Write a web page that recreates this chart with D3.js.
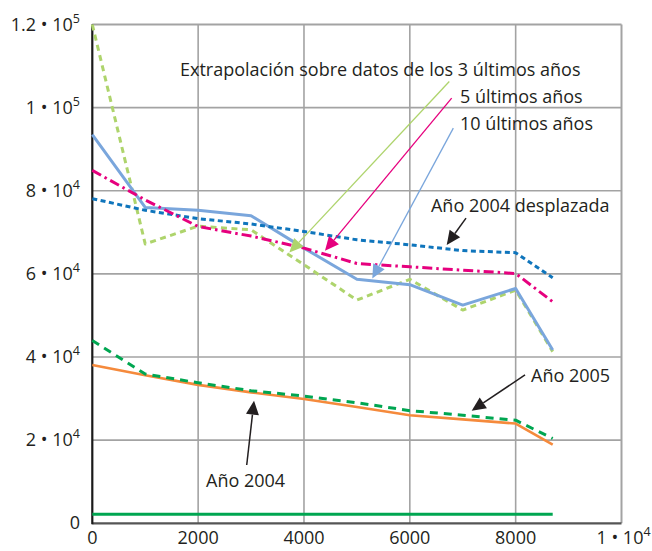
<!DOCTYPE html>
<html>
<head>
<meta charset="utf-8">
<script src="https://cdn.jsdelivr.net/npm/d3@7"></script>
<style>
  html, body { margin: 0; padding: 0; background: #ffffff; }
  svg { display: block; }
  text { font-family: "Open Sans", "Noto Sans", sans-serif; fill: #231f20; }
</style>
</head>
<body>
<svg id="chart" width="652" height="551"></svg>
<script>
// ---- data ----
const hours = [0, 1000, 2000, 3000, 4000, 5000, 6000, 7000, 8000, 8700];
const extrap3 = [120000, 67200, 71500, 70600, 62200, 53700, 58700, 51300, 56100, 41300];
const extrap5 = [84900, 77800, 71400, 69100, 66200, 62500, 61700, 60900, 60100, 53300];
const extrap10 = [93500, 76000, 75300, 74000, 66200, 58700, 57400, 52500, 56500, 41700];
const year2004Shifted = [78100, 75300, 73300, 72000, 70200, 68200, 67000, 65600, 65100, 59100];
const year2004 = [38100, 35600, 33300, 31500, 29900, 28000, 26000, 25000, 24000, 18900];
const year2005 = [44000, 35900, 33800, 31900, 30600, 29000, 27100, 26000, 24800, 20400];
const baseLevel = [2200, 2200];
const baseHours = [0, 8700];
const xTicks = [0, 2000, 4000, 6000, 8000, 10000];
const yTicks = [0, 20000, 40000, 60000, 80000, 100000, 120000];

// annotations (positions in data units)
const annotations = [
  { text: "Extrapolación sobre datos de los 3 últimos años", tx: 1657, ty: 107520,
    from: [6746, 106280], to: [3723, 65130], color: "#aed46c", w: 1.3 },
  { text: "5 últimos años", tx: 6948, ty: 101155,
    from: [6791, 102290], to: [4397, 65540], color: "#e6007e", w: 1.3 },
  { text: "10 últimos años", tx: 6948, ty: 94660,
    from: [6822, 95070], to: [5291, 58870], color: "#7aa6dc", w: 1.3 },
  { text: "Año 2004 desplazada", tx: 6400, ty: 74800,
    from: [7062, 73410], to: [6697, 66980], color: "#231f20", w: 1.5 },
  { text: "Año 2005", tx: 8290, ty: 34000,
    from: [8177, 35690], to: [7169, 27100], color: "#231f20", w: 1.5 },
  { text: "Año 2004", tx: 2149, ty: 8740,
    from: [2918, 14030], to: [3056, 29510], color: "#231f20", w: 1.5 }
];

// ---- scales ----
const svg = d3.select("#chart");
const x = d3.scaleLinear().domain([0, 10000]).range([92.3, 621.5]);
const y = d3.scaleLinear().domain([0, 120000]).range([523.3, 24.5]);

// ---- grid ----
const grid = svg.append("g");
grid.selectAll("line.h").data(yTicks.filter(d => d > 0)).join("line")
  .attr("x1", x(0)).attr("x2", x(10000))
  .attr("y1", d => y(d)).attr("y2", d => y(d))
  .attr("stroke", "#a3a3a3").attr("stroke-width", d => d === 120000 ? 2 : 1.6);
grid.selectAll("line.v").data(xTicks.filter(d => d > 0)).join("line")
  .attr("y1", y(0)).attr("y2", y(120000))
  .attr("x1", d => x(d)).attr("x2", d => x(d))
  .attr("stroke", "#a3a3a3").attr("stroke-width", d => d === 10000 ? 2 : 1.6);

// axes lines
svg.append("line").attr("x1", x(0)).attr("x2", x(10000)).attr("y1", y(0)).attr("y2", y(0))
  .attr("stroke", "#555555").attr("stroke-width", 2.2);
svg.append("line").attr("x1", x(0)).attr("x2", x(0)).attr("y1", y(0) + 1).attr("y2", y(120000))
  .attr("stroke", "#1a1a1a").attr("stroke-width", 2.2);

// ---- tick labels ----
function sciParts(v) {
  if (v < 10000) return { plain: String(v) };
  const e = Math.floor(Math.log10(v));
  const m = +(v / Math.pow(10, e)).toFixed(2);
  return { mant: String(m), exp: String(e) };
}
function writeLabel(sel, v) {
  const p = sciParts(v);
  if (p.plain !== undefined) { sel.text(p.plain); return; }
  sel.append("tspan").text(p.mant + " \u2022 10");
  sel.append("tspan").attr("dy", -8).attr("font-size", 12.5).text(p.exp);
}
const yl = svg.append("g");
yTicks.forEach(v => {
  const t = yl.append("text").attr("x", 80).attr("y", y(v) + 6)
    .attr("text-anchor", "end").attr("font-size", 18);
  writeLabel(t, v);
});
const xl = svg.append("g");
xTicks.forEach(v => {
  const t = xl.append("text").attr("x", x(v) + (v === 10000 ? 2 : 0)).attr("y", 544)
    .attr("text-anchor", "middle").attr("font-size", 18);
  writeLabel(t, v);
});

// ---- series ----
const line = d3.line().x(d => x(d[0])).y(d => y(d[1]));
const zipS = vals => hours.map((h, i) => [h, vals[i]]);
const series = [
  { vals: zipS(year2004), color: "#f58a3c", w: 2.6, dash: null },
  { vals: zipS(year2005), color: "#00a651", w: 3, dash: "8,6" },
  { vals: baseHours.map((h, i) => [h, baseLevel[i]]), color: "#00a651", w: 3, dash: null },
  { vals: zipS(extrap3), color: "#aed46c", w: 3, dash: "6,4.5" },
  { vals: zipS(extrap10), color: "#7aa6dc", w: 3, dash: null },
  { vals: zipS(year2004Shifted), color: "#0f75bc", w: 3, dash: "5,3.5" },
  { vals: zipS(extrap5), color: "#e6007e", w: 3, dash: "10,4,2.5,4" }
];
series.forEach(s => {
  svg.append("path").attr("d", line(s.vals)).attr("fill", "none")
    .attr("stroke", s.color).attr("stroke-width", s.w)
    .attr("stroke-dasharray", s.dash).attr("stroke-linejoin", "round");
});

// ---- annotations ----
annotations.forEach(a => {
  const x1 = x(a.from[0]), y1 = y(a.from[1]), x2 = x(a.to[0]), y2 = y(a.to[1]);
  const ang = Math.atan2(y2 - y1, x2 - x1);
  const L = 14, W = 6.5;
  const bx = x2 - L * Math.cos(ang), by = y2 - L * Math.sin(ang);
  svg.append("line").attr("x1", x1).attr("y1", y1).attr("x2", bx).attr("y2", by)
    .attr("stroke", a.color).attr("stroke-width", a.w);
  const px = -Math.sin(ang), py = Math.cos(ang);
  svg.append("path")
    .attr("d", `M${x2},${y2}L${bx + W * px},${by + W * py}L${bx - W * px},${by - W * py}Z`)
    .attr("fill", a.color);
  svg.append("text").attr("x", x(a.tx)).attr("y", y(a.ty)).attr("font-size", 18).text(a.text);
});
</script>
</body>
</html>
